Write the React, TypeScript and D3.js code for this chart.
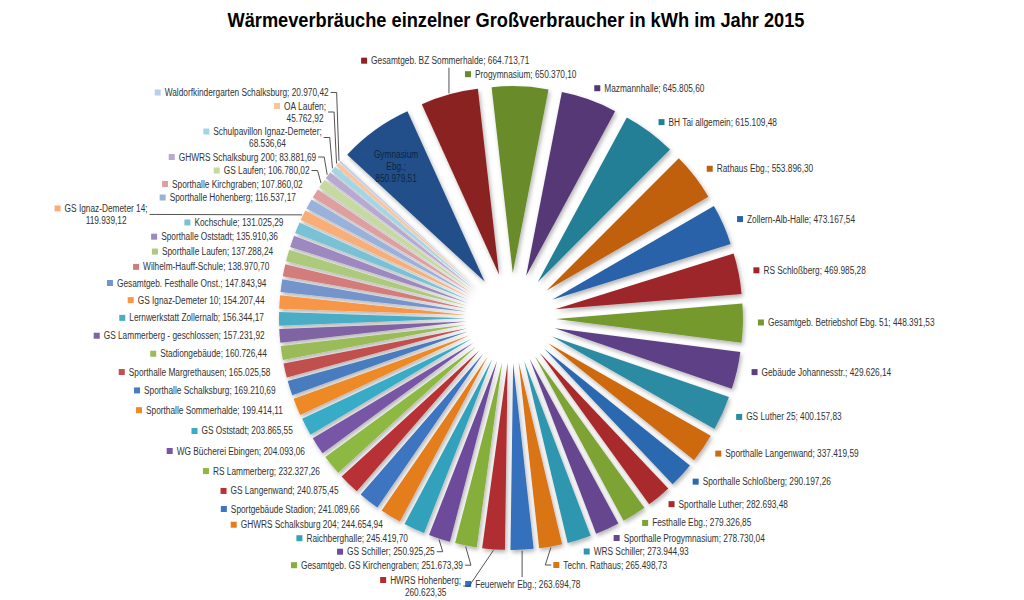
import React, { useMemo } from "react";
import * as d3 from "d3";

const title = "Wärmeverbräuche einzelner Großverbraucher in kWh im Jahr 2015";

const buildings = [
  "Gymnasium Ebg.", "Gesamtgeb. BZ Sommerhalde", "Progymnasium", "Mazmannhalle", "BH Tai allgemein",
  "Rathaus Ebg.", "Zollern-Alb-Halle", "RS Schloßberg", "Gesamtgeb. Betriebshof Ebg. 51", "Gebäude Johannesstr.",
  "GS Luther 25", "Sporthalle Langenwand", "Sporthalle Schloßberg", "Sporthalle Luther", "Festhalle Ebg.",
  "Sporthalle Progymnasium", "WRS Schiller", "Techn. Rathaus", "Feuerwehr Ebg.", "HWRS Hohenberg",
  "Gesamtgeb. GS Kirchengraben", "GS Schiller", "Raichberghalle", "GHWRS Schalksburg 204", "Sportgebäude Stadion",
  "GS Langenwand", "RS Lammerberg", "WG Bücherei Ebingen", "GS Oststadt", "Sporthalle Sommerhalde",
  "Sporthalle Schalksburg", "Sporthalle Margrethausen", "Stadiongebäude", "GS Lammerberg - geschlossen", "Lernwerkstatt Zollernalb",
  "GS Ignaz-Demeter 10", "Gesamtgeb. Festhalle Onst.", "Wilhelm-Hauff-Schule", "Sporthalle Laufen", "Sporthalle Oststadt",
  "Kochschule", "GS Ignaz-Demeter 14", "Sporthalle Hohenberg", "Sporthalle Kirchgraben", "GS Laufen",
  "GHWRS Schalksburg 200", "Schulpavillon Ignaz-Demeter", "OA Laufen", "Waldorfkindergarten Schalksburg",
];

const consumption = [
  850979.51, 664713.71, 650370.10, 645805.60, 615109.48,
  553896.30, 473167.54, 469985.28, 448391.53, 429626.14,
  400157.83, 337419.59, 290197.26, 282693.48, 279326.85,
  278730.04, 273944.93, 265498.73, 263694.78, 260623.35,
  251673.39, 250925.25, 245419.70, 244654.94, 241089.66,
  240875.45, 232327.26, 204093.06, 203865.55, 199414.11,
  169210.69, 165025.58, 160726.44, 157231.92, 156344.17,
  154207.44, 147843.94, 138970.70, 137288.24, 135910.36,
  131025.29, 119939.12, 116537.17, 107860.02, 106780.02,
  83881.69, 68536.64, 45762.92, 20970.42,
];

// labels that Excel wrapped onto two lines, and the one it set off to the far left
const wrappedLabels = ["Gymnasium Ebg.", "HWRS Hohenberg", "GS Ignaz-Demeter 14", "OA Laufen", "Schulpavillon Ignaz-Demeter"];
const detachedLabels = ["GS Ignaz-Demeter 14"];

// colour families (blue, red, green, purple, teal, orange), shade per round of six
const blues = ["#21508a", "#2962aa", "#2c69b0", "#3570bd", "#3c75c1", "#4a7bbf", "#7494cc", "#9ab1db", "#bccdea"];
const reds = ["#8b2424", "#9c2729", "#a82a2c", "#b02e30", "#b83234", "#c0504d", "#d27d7b", "#dea09e", "#ecc6c5"];
const greens = ["#6b8b2b", "#76992f", "#7ea334", "#85ae3a", "#8db843", "#9bbb59", "#adc97c", "#c5d9a0", "#dae6c3"];
const purples = ["#543774", "#5d3f85", "#66468f", "#6e4c9a", "#7756a6", "#8064a2", "#9d89bf", "#b7a9d2", "#d0c6e3"];
const teals = ["#237f95", "#2a8ba3", "#2e96af", "#33a2bc", "#38acc6", "#4bacc6", "#79c2d6", "#a3d6e4", "#c6e6ef"];
const oranges = ["#c0610d", "#ce6a10", "#da7414", "#e47e1c", "#ee8a28", "#f79646", "#f9ae78", "#fbc49c", "#fcd9bf"];
const families = [blues, reds, greens, purples, teals, oranges];

const W = 1024;
const H = 600;
const CX = 511;
const CY = 318;
const R = 187;
const EXPLODE = 45;
const LABEL_RX = 247;
const LABEL_RY = 243;
const LABEL_CY = 317;
const START = (-47.3 * Math.PI) / 180;
const FS = 10;
const SQUEEZE = 0.83;
const LH = 12;
const GAP = 1.5;
const MARK = 6;
const FONT = '"Liberation Sans", Arial, sans-serif';

const fmt = d3
  .formatLocale({ decimal: ",", thousands: ".", grouping: [3], currency: ["", ""] })
  .format(",.2f");

type Lab = {
  i: number;
  mode: string;
  lines: string[];
  lw: number[];
  w: number;
  h: number;
  x0: number;
  x0a: number;
  yc: number;
  ax: number;
  ay: number;
  mid: number;
  detached: boolean;
};

export default function App() {
  const { arcs, labels } = useMemo(() => {
    const pie = d3
      .pie<number>()
      .sort(null)
      .value((d) => d)
      .startAngle(START)
      .endAngle(START + 2 * Math.PI);
    const arcs = pie(consumption);
    const canvas = document.createElement("canvas");
    const ctx = canvas.getContext("2d")!;
    ctx.font = `${FS}px ${FONT}`;

    const labels: Lab[] = arcs.map((a, i) => {
      const mid = (a.startAngle + a.endAngle) / 2;
      const span = a.endAngle - a.startAngle;
      const deg = (mid * 180) / Math.PI;
      const dn = ((((deg + 180) % 360) + 360) % 360) - 180;
      const v = fmt(consumption[i]);
      const inside = span > (20 * Math.PI) / 180;
      let lines: string[];
      if (inside) {
        const parts = buildings[i].split(" ");
        lines = [...parts.slice(0, -1), parts[parts.length - 1] + ";", v];
      } else if (wrappedLabels.includes(buildings[i])) {
        lines = [buildings[i] + ";", v];
      } else {
        lines = [buildings[i] + "; " + v];
      }
      const lw = lines.map((l) => ctx.measureText(l).width * SQUEEZE);
      const tw = Math.max(...lw);
      const w = tw + MARK + 4;
      const h = lines.length * LH;
      const mode = inside ? "inside" : Math.abs(dn) < 17 ? "top" : Math.abs(dn) > 176.5 ? "bottom" : dn > 0 ? "right" : "left";
      let ax: number, ay: number, x0: number;
      if (inside) {
        const rr = EXPLODE + R * 0.8;
        ax = CX + rr * Math.sin(mid) - 6;
        ay = CY - rr * Math.cos(mid) + 6;
        x0 = ax - w / 2;
      } else {
        ax = CX + LABEL_RX * Math.sin(mid);
        ay = LABEL_CY - LABEL_RY * Math.cos(mid);
        if (mode === "right") x0 = ax;
        else if (mode === "left") x0 = ax - w;
        else x0 = ax - w / 2;
      }
      return { i, mode, lines, lw, w, h, x0, x0a: x0, yc: ay, ax, ay, mid, detached: detachedLabels.includes(buildings[i]) };
    });

    const outside = labels.filter((l) => l.mode !== "inside" && !l.detached);
    const ox = (a: Lab, b: Lab) => a.x0 < b.x0 + b.w + 2 && b.x0 < a.x0 + a.w + 2;
    const oy = (a: Lab, b: Lab, g: number) => Math.abs(a.yc - b.yc) < (a.h + b.h) / 2 + g;

    const shiftSide = (l: Lab, placed: Lab[]) => {
      for (let k = 0; k < 6; k++) {
        let moved = false;
        for (const p of placed) {
          if (ox(l, p) && oy(l, p, -1.5)) {
            if (l.mode === "left" || (l.mode !== "right" && l.ax < p.ax)) l.x0 = p.x0 - l.w - 4;
            else l.x0 = p.x0 + p.w + 4;
            moved = true;
          }
        }
        if (!moved) break;
      }
    };

    // upper half: sweep upwards (top-centred labels last)
    const upper = outside
      .filter((l) => l.ay < LABEL_CY)
      .sort((a, b) => {
        const ta = a.mode === "top" ? 1 : 0;
        const tb = b.mode === "top" ? 1 : 0;
        if (ta !== tb) return ta - tb;
        if (ta === 1) return Math.abs(Math.sin(a.mid)) - Math.abs(Math.sin(b.mid));
        return b.ay - a.ay;
      });
    const placed: Lab[] = [];
    for (const l of upper) {
      l.yc = l.ay;
      for (let k = 0; k < 4; k++)
        for (const p of placed)
          if (ox(l, p) && oy(l, p, GAP)) l.yc = p.yc - p.h / 2 - l.h / 2 - GAP;
      l.yc = Math.max(l.yc, 2 + l.h / 2 + 36);
      shiftSide(l, placed);
      placed.push(l);
    }

    // lower half: centred bottom labels sit at the foot, the rest sweep downwards
    const placedL: Lab[] = [];
    for (const l of outside.filter((l) => l.ay >= LABEL_CY && l.mode === "bottom")) {
      l.yc = H - 16;
      placedL.push(l);
    }
    const lower = outside.filter((l) => l.ay >= LABEL_CY && l.mode !== "bottom").sort((a, b) => a.ay - b.ay);
    for (const l of lower) {
      l.yc = l.ay;
      for (let k = 0; k < 4; k++)
        for (const p of placedL)
          if (ox(l, p) && oy(l, p, GAP)) l.yc = Math.max(l.yc, p.yc + p.h / 2 + l.h / 2 + GAP);
      l.yc = Math.min(l.yc, H - 2 - l.h / 2);
      shiftSide(l, placedL);
      placedL.push(l);
    }

    // detached labels: keep their own height, set left of the column they would collide with
    const all = [...placed, ...placedL];
    for (const l of labels.filter((l) => l.detached)) {
      l.yc = l.ay + 5;
      const hits = all.filter((p) => oy(l, p, 0) && p.x0 < l.x0a + l.w);
      const minX = hits.length ? Math.min(...hits.map((p) => p.x0)) : l.x0a + 12 + l.w;
      l.x0 = minX - l.w - 12;
    }
    return { arcs, labels };
  }, []);

  const arcGen = d3.arc<d3.PieArcDatum<number>>().innerRadius(0).outerRadius(R);
  const color = (i: number) => families[i % 6][Math.floor(i / 6)];

  return (
    <svg
      width={W}
      height={H}
      style={{ position: "absolute", left: 0, top: 0, background: "#fff" }}
      fontFamily={FONT}
    >
      <defs>
        <filter id="sh" x="-20%" y="-20%" width="140%" height="140%">
          <feDropShadow dx="1.5" dy="2.5" stdDeviation="2.2" floodColor="#000" floodOpacity="0.3" />
        </filter>
      </defs>
      <text
        x={516}
        y={27}
        textAnchor="middle"
        fontSize={20}
        fontWeight="bold"
        fill="#000"
        textLength={577}
        lengthAdjust="spacingAndGlyphs"
      >
        {title}
      </text>
      <g filter="url(#sh)">
        {arcs.map((a, i) => {
          const mid = (a.startAngle + a.endAngle) / 2;
          const tx = EXPLODE * Math.sin(mid);
          const ty = -EXPLODE * Math.cos(mid);
          return (
            <path
              key={i}
              d={arcGen(a) || ""}
              transform={`translate(${CX + tx},${CY + ty})`}
              fill={color(i)}
            />
          );
        })}
      </g>
      <g fontSize={FS} fill="#333">
        {labels.map((l) => {
          const moved = l.mode !== "inside" && (Math.abs(l.yc - l.ay) > 3 || Math.abs(l.x0 - l.x0a) > 3);
          let leader = null;
          if (moved) {
            const ro = EXPLODE + R + 1;
            const px = CX + ro * Math.sin(l.mid);
            const py = CY - ro * Math.cos(l.mid);
            let pts: [number, number][];
            const labelRight = l.x0 + l.w + 2;
            const labelLeft = l.x0 - 2;
            if (l.mode === "top") {
              pts = [[px, py], [px, l.yc + l.h / 2 + 1]];
            } else if (l.mode === "bottom") {
              pts = [[px, py], [px, l.yc - l.h / 2 - 1]];
            } else if (px < l.x0) {
              pts = [[px, py], [labelLeft - 6, l.yc], [labelLeft, l.yc]];
            } else {
              pts = [[px, py], [labelRight + 6, l.yc], [labelRight, l.yc]];
            }
            leader = (
              <polyline points={pts.map((p) => p.join(",")).join(" ")} fill="none" stroke="#404040" strokeWidth={0.9} />
            );
          }
          const top = l.yc - l.h / 2;
          const textX = l.x0 + MARK + 4;
          const tw = l.w - MARK - 4;
          const multi = l.lines.length > 1;
          return (
            <g key={l.i}>
              {leader}
              <rect x={l.x0} y={top + LH / 2 - MARK / 2} width={MARK} height={MARK} fill={color(l.i)} />
              {l.lines.map((s, k) => (
                <text
                  key={k}
                  x={multi ? textX + tw / 2 : textX}
                  y={top + LH * k + LH / 2}
                  dy="0.35em"
                  textAnchor={multi ? "middle" : "start"}
                  textLength={l.lw[k]}
                  lengthAdjust="spacingAndGlyphs"
                  fill={l.mode === "inside" ? "#0f2540" : "#333"}
                >
                  {s}
                </text>
              ))}
            </g>
          );
        })}
      </g>
    </svg>
  );
}
